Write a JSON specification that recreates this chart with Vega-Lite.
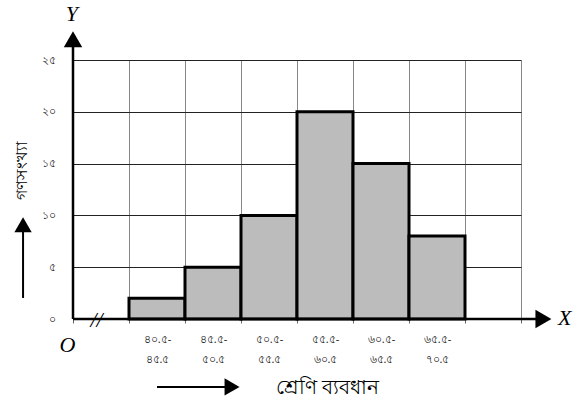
{
  "$schema": "https://vega.github.io/schema/vega-lite/v6.json",
  "width": 448,
  "height": 259,
  "autosize": {"type": "none"},
  "padding": {"left": 73, "top": 60, "right": 66, "bottom": 88},
  "background": "white",
  "config": {"view": {"stroke": null}, "font": "Noto Sans"},
  "datasets": {
    "classes": [
      {"lower": 40.5, "upper": 45.5, "freq": 2},
      {"lower": 45.5, "upper": 50.5, "freq": 5},
      {"lower": 50.5, "upper": 55.5, "freq": 10},
      {"lower": 55.5, "upper": 60.5, "freq": 20},
      {"lower": 60.5, "upper": 65.5, "freq": 15},
      {"lower": 65.5, "upper": 70.5, "freq": 8}
    ],
    "one": [{}]
  },
  "layer": [
    {
      "data": {"name": "classes"},
      "mark": {"type": "bar", "fill": "#bcbcbc", "stroke": "black", "strokeWidth": 3, "strokeJoin": "miter"},
      "encoding": {
        "x": {
          "field": "lower", "type": "quantitative",
          "scale": {"domain": [35.5, 75.5], "nice": false, "zero": false},
          "axis": {
            "values": [35.5, 40.5, 45.5, 50.5, 55.5, 60.5, 65.5, 70.5, 75.5],
            "grid": true, "gridColor": "#888888", "gridWidth": 1, "gridOpacity": 1,
            "domain": false, "ticks": true, "tickSize": 4, "tickColor": "#666666",
            "labelOffset": 28, "labelPadding": 10, "labelFontSize": 11, "labelLineHeight": 20,
            "labelColor": "#222222", "labelFlush": false, "labelOverlap": false, "labelBaseline": "top",
            "labelExpr": "datum.value == 40.5 ? ['৪০.৫-','৪৫.৫'] : datum.value == 45.5 ? ['৪৫.৫-','৫০.৫'] : datum.value == 50.5 ? ['৫০.৫-','৫৫.৫'] : datum.value == 55.5 ? ['৫৫.৫-','৬০.৫'] : datum.value == 60.5 ? ['৬০.৫-','৬৫.৫'] : datum.value == 65.5 ? ['৬৫.৫-','৭০.৫'] : ''",
            "title": "শ্রেণি ব্যবধান",
            "titleFontSize": 20, "titleFontWeight": "normal", "titleColor": "black",
            "titleX": 254, "titleY": 68, "titleAlign": "center", "titleBaseline": "middle"
          }
        },
        "x2": {"field": "upper"},
        "y": {
          "field": "freq", "type": "quantitative",
          "scale": {"domain": [0, 25], "nice": false},
          "axis": {
            "values": [0, 5, 10, 15, 20, 25],
            "grid": true, "gridColor": "#222222", "gridWidth": 1, "gridOpacity": 1,
            "domain": false, "ticks": false, "labelPadding": 18, "labelFontSize": 11, "labelColor": "#222222",
            "labelExpr": "datum.value == 0 ? '০' : datum.value == 5 ? '৫' : datum.value == 10 ? '১০' : datum.value == 15 ? '১৫' : datum.value == 20 ? '২০' : '২৫'",
            "title": "গণসংখ্যা",
            "titleFontSize": 16, "titleFontWeight": "normal", "titleColor": "black",
            "titleX": -52, "titleY": 110, "titleAngle": -90, "titleAlign": "center", "titleBaseline": "middle"
          }
        },
        "y2": {"datum": 0}
      }
    },
    {
      "data": {"name": "one"},
      "mark": {"type": "rule", "stroke": "black", "strokeWidth": 2.5, "clip": false},
      "encoding": {"x": {"datum": 35.5}, "y": {"datum": 0}, "x2": {"datum": 77}}
    },
    {
      "data": {"name": "one"},
      "mark": {"type": "rule", "stroke": "black", "strokeWidth": 2.5, "clip": false},
      "encoding": {"x": {"datum": 35.5}, "y": {"datum": 0}, "y2": {"datum": 26.6}}
    },
    {
      "data": {"name": "one"},
      "mark": {"type": "point", "shape": "triangle-right", "filled": true, "color": "black", "opacity": 1, "size": 340, "clip": false},
      "encoding": {"x": {"datum": 77.5}, "y": {"datum": 0}}
    },
    {
      "data": {"name": "one"},
      "mark": {"type": "point", "shape": "triangle-up", "filled": true, "color": "black", "opacity": 1, "size": 340, "clip": false},
      "encoding": {"x": {"datum": 35.5}, "y": {"datum": 27.0}}
    },
    {
      "data": {"name": "one"},
      "mark": {"type": "rule", "stroke": "black", "strokeWidth": 2, "clip": false},
      "encoding": {"x": {"datum": 31.04}, "y": {"datum": 2.03}, "y2": {"datum": 9.0}}
    },
    {
      "data": {"name": "one"},
      "mark": {"type": "point", "shape": "triangle-up", "filled": true, "color": "black", "opacity": 1, "size": 300, "clip": false},
      "encoding": {"x": {"datum": 31.04}, "y": {"datum": 9.1}}
    },
    {
      "data": {"name": "one"},
      "mark": {"type": "rule", "stroke": "black", "strokeWidth": 2, "clip": false},
      "encoding": {"x": {"datum": 43.0}, "y": {"datum": -6.56}, "x2": {"datum": 49.6}}
    },
    {
      "data": {"name": "one"},
      "mark": {"type": "point", "shape": "triangle-right", "filled": true, "color": "black", "opacity": 1, "size": 300, "clip": false},
      "encoding": {"x": {"datum": 49.7}, "y": {"datum": -6.56}}
    },
    {
      "data": {"name": "one"},
      "mark": {"type": "text", "text": "X", "font": "Liberation Serif", "fontStyle": "italic", "fontSize": 22, "align": "center", "baseline": "middle", "clip": false},
      "encoding": {"x": {"datum": 79.4}, "y": {"datum": 0.1}}
    },
    {
      "data": {"name": "one"},
      "mark": {"type": "text", "text": "Y", "font": "Liberation Serif", "fontStyle": "italic", "fontSize": 22, "align": "center", "baseline": "middle", "clip": false},
      "encoding": {"x": {"datum": 35.4}, "y": {"datum": 29.4}}
    },
    {
      "data": {"name": "one"},
      "mark": {"type": "text", "text": "O", "font": "Liberation Serif", "fontStyle": "italic", "fontSize": 22, "align": "center", "baseline": "middle", "clip": false},
      "encoding": {"x": {"datum": 35.0}, "y": {"datum": -2.5}}
    },
    {
      "data": {"name": "one"},
      "mark": {"type": "text", "text": "//", "font": "Liberation Serif", "fontStyle": "italic", "fontSize": 22, "align": "center", "baseline": "middle", "clip": false},
      "encoding": {"x": {"datum": 37.6}, "y": {"datum": -0.1}}
    }
  ]
}
